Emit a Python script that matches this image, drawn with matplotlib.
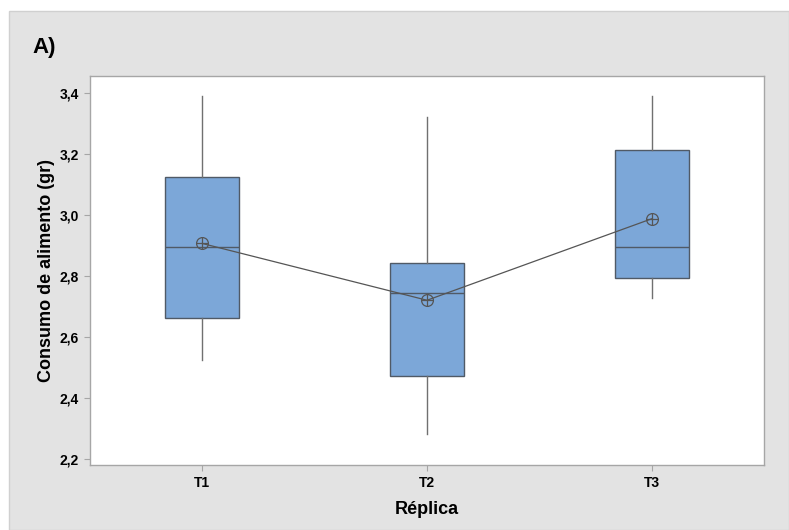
import matplotlib
matplotlib.use("Agg")
import matplotlib.pyplot as plt
from matplotlib.patches import Rectangle

plt.rcParams['font.family'] = ['Liberation Sans', 'DejaVu Sans']

# Data
groups = ["T1", "T2", "T3"]
whisker_low = [2.524, 2.281, 2.726]
q1 = [2.662, 2.473, 2.792]
medians = [2.893, 2.743, 2.896]
q3 = [3.125, 2.842, 3.211]
whisker_high = [3.391, 3.320, 3.391]
means = [2.906, 2.720, 2.987]
yticks = [2.2, 2.4, 2.6, 2.8, 3.0, 3.2, 3.4]

box_color = "#7ca7d8"
edge_color = "#505a66"
whisk_color = "#707070"
axis_gray = "#a6a6a6"
panel_gray = "#e3e3e3"

fig = plt.figure(figsize=(7.89, 5.30), dpi=100)
fig.patch.set_facecolor("white")
# gray outer panel, drawn behind the axes
fig.patches.append(Rectangle((9 / 789, 0), 1 - 9 / 789, 1 - 11 / 530,
                             transform=fig.transFigure, facecolor=panel_gray,
                             edgecolor="#d0d0d0", linewidth=1, zorder=-10))

ax = fig.add_axes([90 / 789, 1 - 465 / 530, (764 - 90) / 789, (465 - 76) / 530])
ax.set_zorder(1)
ax.set_facecolor("white")

stats = []
for i, g in enumerate(groups):
    stats.append(dict(label=g, whislo=whisker_low[i], q1=q1[i], med=medians[i],
                      q3=q3[i], whishi=whisker_high[i], mean=means[i], fliers=[]))

positions = list(range(1, len(groups) + 1))
ax.bxp(stats, positions=positions, widths=0.33, patch_artist=True,
       showcaps=False, showfliers=False, showmeans=False,
       boxprops=dict(facecolor=box_color, edgecolor=edge_color, linewidth=1.0),
       medianprops=dict(color=edge_color, linewidth=1.0),
       whiskerprops=dict(color=whisk_color, linewidth=1.0))

# connect means, marked with a circled plus
ax.plot(positions, means, color="#555555", linewidth=0.9, zorder=4)
ax.plot(positions, means, linestyle="none", marker="o", markersize=8.5,
        markerfacecolor="none", markeredgecolor="#555555", markeredgewidth=0.9, zorder=5)
ax.plot(positions, means, linestyle="none", marker="+", markersize=8.5,
        markeredgecolor="#555555", markeredgewidth=0.9, zorder=5)

ax.set_xlim(0.5, 3.5)
ax.set_ylim(2.18, 3.455)
ax.set_yticks(yticks)
ax.set_yticklabels([f"{v:.1f}".replace(".", ",") for v in yticks])
ax.set_xticks(positions)
ax.set_xticklabels(groups)

for s in ax.spines.values():
    s.set_color(axis_gray)
    s.set_linewidth(1.0)
ax.tick_params(axis="both", direction="out", length=4, color=axis_gray,
               labelsize=10, pad=4)
for lbl in ax.get_xticklabels() + ax.get_yticklabels():
    lbl.set_fontweight("bold")

ax.set_ylabel("Consumo de alimento (gr)", fontsize=13, fontweight="bold", labelpad=3.5)
ax.set_xlabel("Réplica", fontsize=13, fontweight="bold", labelpad=7.5)

fig.text(32 / 789, 1 - 47 / 530, "A)", fontsize=16, fontweight="bold",
         ha="left", va="center")

fig.savefig("out.png", dpi=100)
